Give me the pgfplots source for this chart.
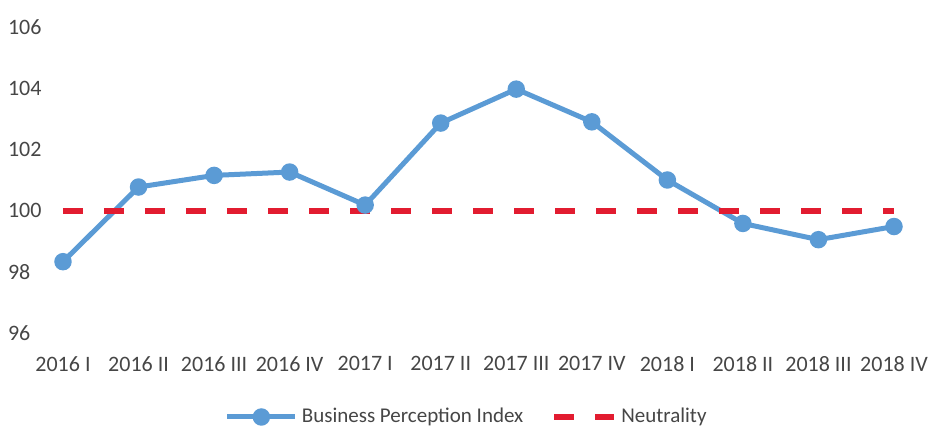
\documentclass[border=0pt]{standalone}
\usepackage{fontspec}
\setmainfont{Carlito}
\usepackage{pgfplots}
\pgfplotsset{compat=1.18}
\usetikzlibrary{calc}
\definecolor{bpiblue}{RGB}{91,155,213}
\definecolor{neutred}{RGB}{226,28,48}
\definecolor{labgray}{RGB}{70,70,70}
\pgfplotsset{
  bpileg/.style={legend image code/.code={\draw[mark repeat=2,mark phase=2,##1]
    plot coordinates {(0pt,0pt) (17pt,0pt) (34pt,0pt)};}},
  neutleg/.style={legend image code/.code={\draw[##1] (0pt,0pt) -- (30pt,0pt);}},
}

\begin{document}
\begin{tikzpicture}
\begin{axis}[
  scale only axis,
  width=415.5pt, height=153pt,
  xmin=0, xmax=11, ymin=96, ymax=106,
  ytick={96,98,...,106},
  xtick={0,...,11},
  xticklabels={2016 I,2016 II,2016 III,2016 IV,2017 I,2017 II,2017 III,2017 IV,2018 I,2018 II,2018 III,2018 IV},
  axis line style={draw=none},
  tick style={draw=none},
  clip=false,
  /pgf/number format/assume math mode=true,
  ticklabel style={font=\fontsize{11}{13}\selectfont, text=labgray},
  yticklabel style={anchor=west, xshift=-31pt},
  xticklabel style={yshift=-8.3pt},
  legend style={at={(0.487,-0.2745)}, anchor=center, draw=none,
    font=\fontsize{10.5}{12.5}\selectfont, text=labgray,
    legend columns=2, /tikz/every even column/.append style={column sep=12pt}},
]
\addplot[color=bpiblue, line width=2.5pt, mark=*, mark size=3.1pt,
  mark options={fill=bpiblue, draw=bpiblue}, bpileg]
  coordinates {(0,98.33) (1,100.77) (2,101.15) (3,101.26) (4,100.18) (5,102.86)
               (6,103.97) (7,102.9) (8,101.0) (9,99.58) (10,99.05) (11,99.48)};
\addlegendentry{Business Perception Index}
\addplot[color=neutred, line width=3pt, dash pattern=on 10pt off 10.5pt, neutleg]
  coordinates {(0,100) (1,100) (2,100) (3,100) (4,100) (5,100)
               (6,100) (7,100) (8,100) (9,100) (10,100) (11,100)};
\addlegendentry{Neutrality}
\end{axis}
\pgfresetboundingbox
\path[use as bounding box] ($(current axis.south west)+(-31.5pt,-49.5pt)$)
  rectangle ($(current axis.north east)+(17pt,13.5pt)$);
\end{tikzpicture}
\end{document}
